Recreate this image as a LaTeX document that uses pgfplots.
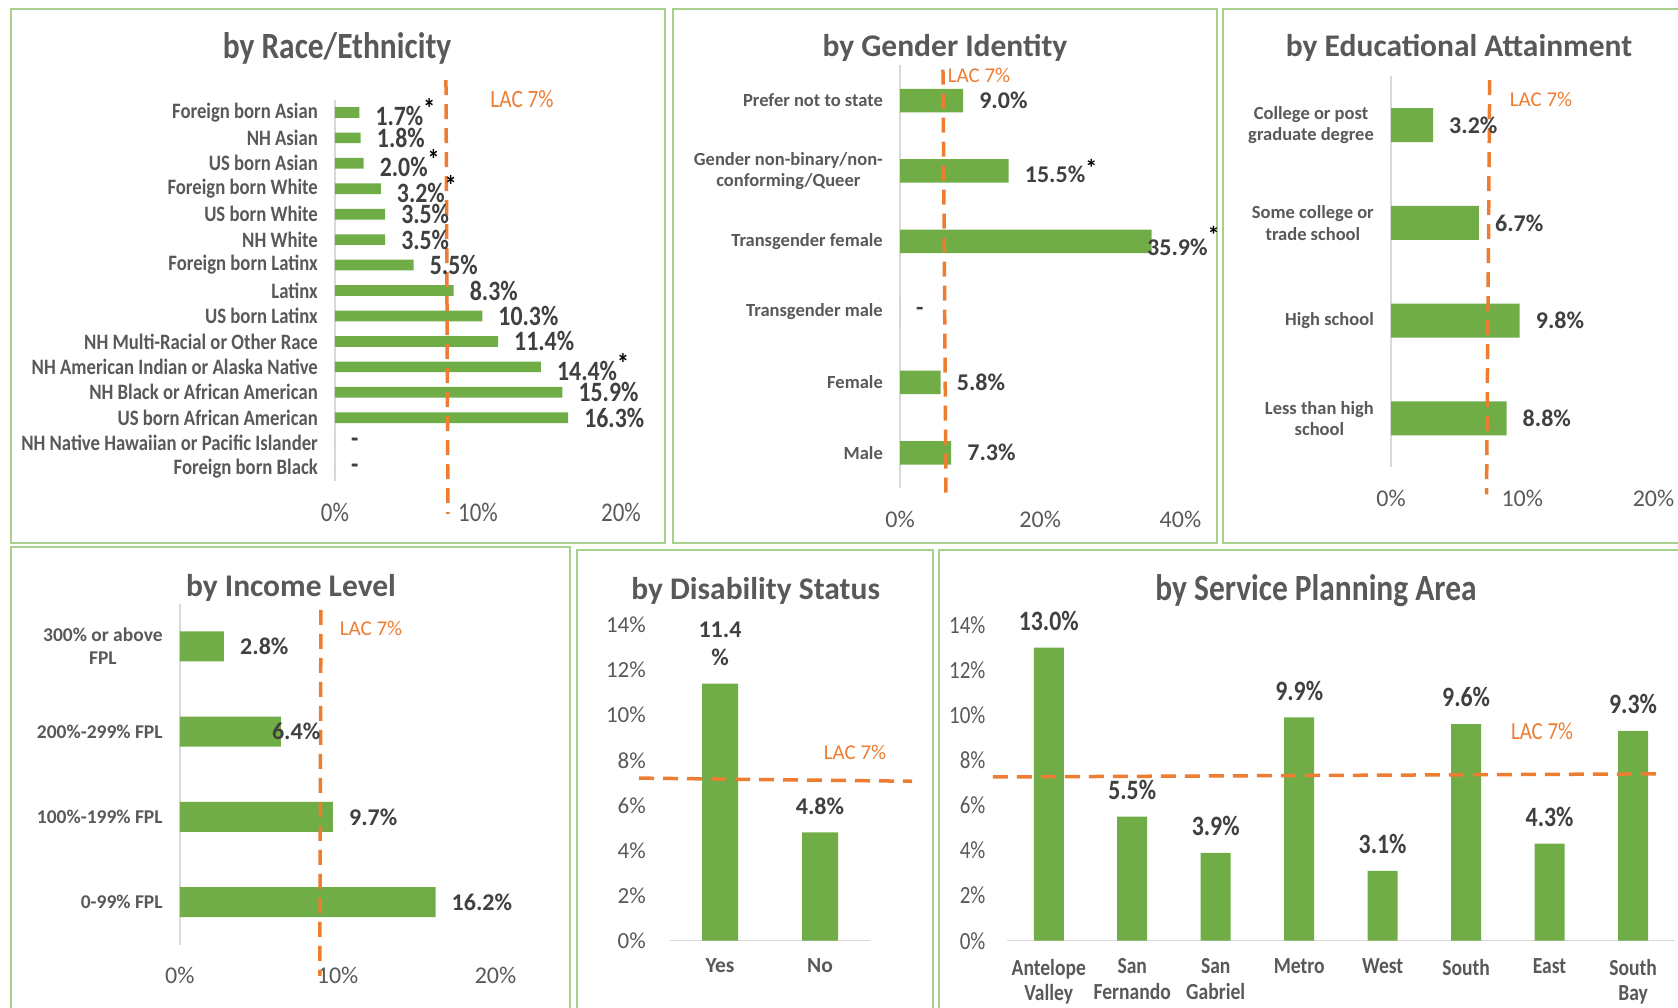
\documentclass[border=0pt]{standalone}
\usepackage{fontspec}
\setmainfont{Carlito}
\newfontfamily\cond{Carlito}[FakeStretch=0.85]
\usepackage{pgfplots}
\pgfplotsset{compat=1.18}
\definecolor{barg}{HTML}{70AD47}
\definecolor{lac}{HTML}{ED7D31}
\definecolor{tgray}{HTML}{595959}
\definecolor{vgray}{HTML}{404040}
\definecolor{agray}{HTML}{D9D9D9}
\definecolor{bord}{HTML}{A9D18E}
\newcommand\fs[2]{\fontsize{#1}{#2}\selectfont}
\protected\def\sig{\rlap{\raisebox{0.25em}{\textcolor{black}{*}}}}
\protected\def\sigb{\rlap{\raisebox{0.5em}{\textcolor{black}{*}}}}
\protected\def\nl{\\}
\pgfplotsset{
  base/.style={scale only axis, clip=false, anchor=south west, major tick length=0pt,
    tick style={draw=none}, ticklabel style={text=tgray}},
  hbarpanel/.style={base, axis lines*=left, x axis line style={draw=none},
    y axis line style={draw=agray, line width=1.5pt},
    xticklabel style={anchor=center, inner sep=0pt, yshift=-31pt},
    yticklabel style={anchor=east, inner sep=0pt, xshift=-17pt, align=center}},
  vbarpanel/.style={base, axis lines*=left, y axis line style={draw=none},
    x axis line style={draw=agray, line width=1.5pt},
    xticklabel style={anchor=north, inner sep=0pt, yshift=-18pt, align=center},
    yticklabel style={anchor=east, inner sep=0pt},
    ymin=0, ymax=14, ytick={0,2,...,14},
    yticklabels={0\%,2\%,4\%,6\%,8\%,10\%,12\%,14\%}},
  lacline/.style={draw=lac, line width=3.5pt, dash pattern=on 15pt off 9pt, forget plot, mark=none},
}
\begin{document}
\begin{tikzpicture}[x=1pt,y=1pt]
\useasboundingbox (0,0) rectangle (1678,1008);
\fill[white] (0,0) rectangle (1678,1008);
% panel borders
\begin{scope}[draw=bord, line width=1.5pt]
\draw (11,999) rectangle (665,465);
\draw (673,999) rectangle (1217,465);
\draw (1223,999) rectangle (1690,465);
\draw (11,461) rectangle (570,-10);
\draw (577,458) rectangle (933,-10);
\draw (939,458) rectangle (1690,-10);
\end{scope}
% titles
\node[font=\cond\bfseries\fs{37}{40}, text=tgray] at (337,960) {by Race/Ethnicity};
\node[font=\bfseries\fs{31.5}{36}, text=tgray] at (945,960) {by Gender Identity};
\node[font=\bfseries\fs{31.5}{36}, text=tgray] at (1459,960) {by Educational Attainment};
\node[font=\bfseries\fs{31.5}{36}, text=tgray] at (291,420) {by Income Level};
\node[font=\bfseries\fs{31.5}{36}, text=tgray] at (755.6,417) {by Disability Status};
\node[font=\cond\bfseries\fs{37}{40}, text=tgray] at (1316,417) {by Service Planning Area};
% LAC labels
\node[font=\cond\fs{25}{28}, text=lac] at (522,908.5) {LAC 7\%};
\node[font=\fs{21}{25}, text=lac] at (979,933) {LAC 7\%};
\node[font=\fs{21}{25}, text=lac] at (1541,908.5) {LAC 7\%};
\node[font=\fs{21}{25}, text=lac] at (371,380) {LAC 7\%};
\node[font=\fs{21}{25}, text=lac] at (855,255.6) {LAC 7\%};
\node[font=\cond\fs{24.5}{28}, text=lac] at (1542,277) {LAC 7\%};

% ---------- Race / Ethnicity ----------
\begin{axis}[hbarpanel, at={(335pt,526.6pt)}, width=286pt, height=381.7pt,
  xmin=0, xmax=20, ymin=-0.5, ymax=14.5,
  xtick={0,10,20}, xticklabels={0\%,10\%,20\%},
  xticklabel style={font=\cond\fs{27}{30}},
  ytick={0,...,14},
  yticklabels={{Foreign born Black},{NH Native Hawaiian or Pacific Islander},{US born African American},{NH Black or African American},{NH American Indian or Alaska Native},{NH Multi-Racial or Other Race},{US born Latinx},{Latinx},{Foreign born Latinx},{NH White},{US born White},{Foreign born White},{US born Asian},{NH Asian},{Foreign born Asian}},
  yticklabel style={font=\cond\bfseries\fs{22}{25}}]
\addplot[xbar, fill=barg, draw=none, bar width=10.7pt, point meta=explicit symbolic,
  nodes near coords, every node near coord/.append style={anchor=west, inner sep=0pt, xshift=16pt, text=vgray, font=\cond\bfseries\fs{28}{32}}]
  coordinates {(0,0) [-] (0,1) [-] (16.3,2) [16.3\%] (15.9,3) [15.9\%] (14.4,4) [14.4\%\sig]
  (11.4,5) [11.4\%] (10.3,6) [10.3\%] (8.3,7) [8.3\%] (5.5,8) [5.5\%] (3.5,9) [3.5\%]
  (3.5,10) [3.5\%] (3.2,11) [3.2\%\sig] (2.0,12) [2.0\%\sig] (1.8,13) [1.8\%] (1.7,14) [1.7\%\sig]};
\addplot[lacline] coordinates {(7.76,15.27) (7.90,-1.78)};
\end{axis}

% ---------- Gender Identity ----------
\begin{axis}[hbarpanel, at={(900pt,520pt)}, width=280.4pt, height=422.7pt,
  xmin=0, xmax=40, ymin=-0.5, ymax=5.5,
  xtick={0,20,40}, xticklabels={0\%,20\%,40\%},
  xticklabel style={font=\fs{24}{28}},
  ytick={0,...,5},
  yticklabels={{Male},{Female},{Transgender male},{Transgender female},{Gender non-binary/non-\\conforming/Queer},{Prefer not to state}},
  yticklabel style={font=\bfseries\fs{18.5}{21.4}}]
\addplot[xbar, fill=barg, draw=none, bar width=23.5pt, point meta=explicit symbolic,
  nodes near coords, every node near coord/.append style={anchor=west, inner sep=0pt, xshift=16pt, text=vgray, font=\bfseries\fs{24}{28}}]
  coordinates {(7.3,0) [7.3\%] (5.8,1) [5.8\%] (0,2) [-] (35.9,3) [\kern-20.7pt 35.9\%\sigb]
  (15.5,4) [15.5\%\sig] (9.0,5) [9.0\%]};
\addplot[lacline] coordinates {(6.13,5.44) (6.56,-0.585)};
\end{axis}

% ---------- Educational Attainment ----------
\begin{axis}[hbarpanel, at={(1391pt,540.7pt)}, width=262.5pt, height=391pt,
  xmin=0, xmax=20, ymin=-0.5, ymax=3.5,
  xtick={0,10,20}, xticklabels={0\%,10\%,20\%},
  xticklabel style={font=\fs{24}{28}},
  ytick={0,...,3},
  yticklabels={{Less than high\\school},{High school},{Some college or\\trade school},{College or post\\graduate degree}},
  yticklabel style={font=\bfseries\fs{18.5}{21.4}}]
\addplot[xbar, fill=barg, draw=none, bar width=34pt, point meta=explicit symbolic,
  nodes near coords, every node near coord/.append style={anchor=west, inner sep=0pt, xshift=16pt, text=vgray, font=\bfseries\fs{24}{28}}]
  coordinates {(8.8,0) [8.8\%] (9.8,1) [9.8\%] (6.7,2) [6.7\%] (3.2,3) [3.2\%]};
\addplot[lacline] coordinates {(7.52,3.46) (7.28,-0.777)};
\end{axis}

% ---------- Income Level ----------
\begin{axis}[hbarpanel, at={(179.8pt,63.2pt)}, width=315.7pt, height=341pt,
  xmin=0, xmax=20, ymin=-0.5, ymax=3.5,
  xtick={0,10,20}, xticklabels={0\%,10\%,20\%},
  xticklabel style={font=\fs{24}{28}},
  ytick={0,...,3},
  yticklabels={{0-99\% FPL},{100\%-199\% FPL},{200\%-299\% FPL},{300\% or above\\FPL}},
  yticklabel style={font=\bfseries\fs{19.5}{23}}]
\addplot[xbar, fill=barg, draw=none, bar width=30pt, point meta=explicit symbolic,
  nodes near coords, every node near coord/.append style={anchor=west, inner sep=0pt, xshift=16pt, text=vgray, font=\bfseries\fs{24}{28}}]
  coordinates {(16.2,0) [16.2\%] (9.7,1) [9.7\%] (6.4,2) [\kern-25pt 6.4\%] (2.8,3) [2.8\%]};
\addplot[lacline] coordinates {(8.94,3.43) (8.87,-0.866)};
\end{axis}

% ---------- Disability Status ----------
\begin{axis}[vbarpanel, at={(670pt,67.3pt)}, width=200pt, height=315.7pt,
  xmin=-0.5, xmax=1.5,
  xtick={0,1}, xticklabels={Yes,No},
  xticklabel style={font=\bfseries\fs{21.5}{25}},
  yticklabel style={font=\fs{23}{27}, xshift=-24pt}]
\addplot[ybar, fill=barg, draw=none, bar width=36pt, point meta=explicit symbolic,
  nodes near coords, every node near coord/.append style={anchor=south, inner sep=0pt, yshift=18pt, align=center, text=vgray, font=\bfseries\fs{24}{28}}]
  coordinates {(0,11.4) [11.4\nl\%] (1,4.8) [4.8\%]};
\addplot[lacline] coordinates {(-0.81,7.21) (1.92,7.07)};
\end{axis}

% ---------- Service Planning Area ----------
\begin{axis}[vbarpanel, at={(1007pt,67.3pt)}, width=667.8pt, height=315.7pt,
  xmin=-0.5, xmax=7.5,
  xtick={0,...,7},
  xticklabels={{Antelope\\Valley},{San\\Fernando},{San\\Gabriel},{Metro},{West},{South},{East},{South\\Bay}},
  xticklabel style={font=\cond\bfseries\fs{23}{25.7}},
  yticklabel style={font=\cond\fs{24.7}{28}, xshift=-21.4pt}]
\addplot[ybar, fill=barg, draw=none, bar width=30pt, point meta=explicit symbolic,
  nodes near coords, every node near coord/.append style={anchor=south, inner sep=0pt, yshift=17pt, text=vgray, font=\cond\bfseries\fs{28}{32}}]
  coordinates {(0,13.0) [13.0\%] (1,5.5) [5.5\%] (2,3.9) [3.9\%] (3,9.9) [9.9\%]
  (4,3.1) [3.1\%] (5,9.6) [9.6\%] (6,4.3) [4.3\%] (7,9.3) [9.3\%]};
\addplot[lacline] coordinates {(-0.668,7.26) (7.368,7.40)};
\end{axis}
\end{tikzpicture}
\end{document}
